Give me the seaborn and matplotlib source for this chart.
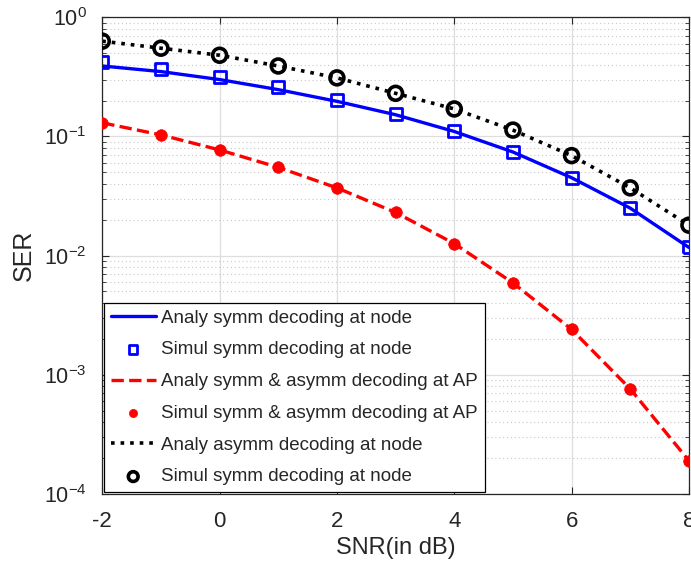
import numpy as np
import matplotlib
matplotlib.use("Agg")
import matplotlib.pyplot as plt
from matplotlib.ticker import LogLocator, NullFormatter
import seaborn as sns

sns.set_theme(style="ticks")
plt.rcParams['font.family'] = ['Liberation Sans', 'DejaVu Sans']
plt.rcParams['mathtext.fontset'] = 'custom'
plt.rcParams['mathtext.rm'] = 'Liberation Sans'
plt.rcParams['mathtext.it'] = 'Liberation Sans'

# SNR values (dB)
snr = [-2, -1, 0, 1, 2, 3, 4, 5, 6, 7, 8]

# symmetric decoding at node
analy_sym_node = [0.39, 0.35, 0.30, 0.247, 0.197, 0.152, 0.110, 0.074, 0.045, 0.025, 0.0117]
simul_sym_node = [0.42, 0.367, 0.315, 0.26, 0.203, 0.154, 0.111, 0.074, 0.045, 0.025, 0.0117]

# symmetric & asymmetric decoding at AP
analy_ap = [0.13, 0.103, 0.077, 0.055, 0.037, 0.023, 0.0126, 0.0059, 0.0024, 0.00076, 0.00019]
simul_ap = [0.13, 0.103, 0.077, 0.055, 0.037, 0.023, 0.0126, 0.0059, 0.0024, 0.00076, 0.00019]

# asymmetric decoding at node
analy_asym_node = [0.63, 0.55, 0.48, 0.39, 0.31, 0.23, 0.17, 0.113, 0.069, 0.037, 0.018]
simul_asym_node = [0.63, 0.55, 0.48, 0.39, 0.31, 0.23, 0.17, 0.113, 0.069, 0.037, 0.018]

labels = ['Analy symm decoding at node',
          'Simul symm decoding at node',
          'Analy symm & asymm decoding at AP',
          'Simul symm & asymm decoding at AP',
          'Analy asymm decoding at node',
          'Simul symm decoding at node']

fig = plt.figure(figsize=(6.91, 5.75), dpi=100)
ax = fig.add_axes([0.148, 0.141, 0.849, 0.829])

sns.lineplot(x=snr, y=analy_sym_node, color='#0000ff', linewidth=2.4, label=labels[0], ax=ax)
sns.scatterplot(x=snr, y=simul_sym_node, marker='s', s=75, facecolor='none',
                edgecolor='#0000ff', linewidth=2, label=labels[1], zorder=3, ax=ax)
sns.lineplot(x=snr, y=analy_ap, color='#ff0000', linewidth=2.4, linestyle='--',
             dashes=(4, 2.6), label=labels[2], ax=ax)
sns.scatterplot(x=snr, y=simul_ap, marker='o', s=70, color='#ff0000',
                edgecolor='#ff0000', linewidth=0.5, label=labels[3], zorder=3, ax=ax)
sns.lineplot(x=snr, y=analy_asym_node, color='black', linewidth=2.6, linestyle=':',
             dashes=(0.9, 1.1), label=labels[4], ax=ax)
sns.scatterplot(x=snr, y=simul_asym_node, marker='o', s=100, facecolor='none',
                edgecolor='black', linewidth=2.6, label=labels[5], zorder=3, ax=ax)

ax.set_yscale('log')
ax.set_xlim(-2, 8)
ax.set_ylim(1e-4, 1)
ax.set_xticks([-2, 0, 2, 4, 6, 8])
ax.set_xticklabels(['-2', '0', '2', '4', '6', '8'])
ax.yaxis.set_major_locator(LogLocator(base=10, numticks=10))
ax.yaxis.set_minor_locator(LogLocator(base=10, subs=np.arange(2, 10), numticks=20))
ax.yaxis.set_minor_formatter(NullFormatter())

ax.grid(True, which='major', color='#dedede', linewidth=0.9, linestyle='-')
ax.grid(True, which='minor', axis='y', color='#c8c8c8', linewidth=0.8, linestyle=(0, (1, 2.5)))
ax.set_axisbelow(True)

ax.tick_params(which='both', direction='in', top=True, right=True, colors='#262626',
               labelcolor='#262626')
ax.tick_params(axis='x', labelsize=16, pad=12)
ax.tick_params(axis='y', labelsize=15.5, pad=11)
ax.tick_params(which='major', length=5, width=0.8)
ax.tick_params(which='minor', length=3, width=0.6)
for sp in ax.spines.values():
    sp.set_color('#262626')
    sp.set_linewidth(0.9)

ax.set_xlabel('SNR(in dB)', fontsize=17, color='#262626', labelpad=4)
ax.set_ylabel('SER', fontsize=18, color='#262626', labelpad=6)

leg = ax.legend(loc='lower left', fontsize=13.5, frameon=True, fancybox=False,
                edgecolor='black', framealpha=1, borderaxespad=0.1,
                handlelength=2.4, handletextpad=0.3, labelspacing=0.78,
                borderpad=0.35, markerscale=0.7)
leg.get_frame().set_linewidth(0.9)

fig.savefig('out.png', dpi=100)
